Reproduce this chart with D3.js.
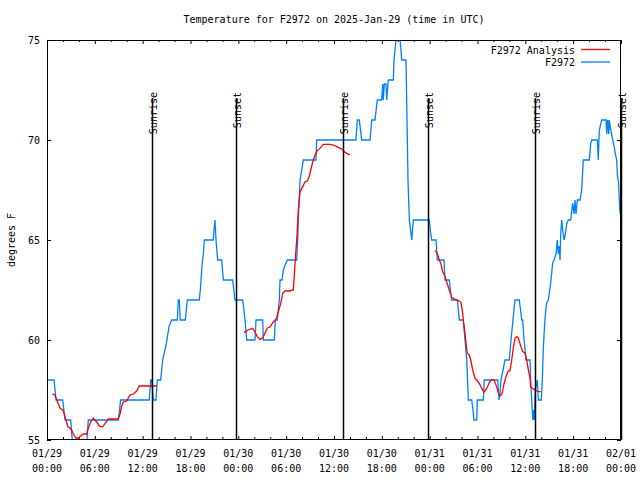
<!DOCTYPE html>
<html><head><meta charset="utf-8">
<script src="https://cdn.jsdelivr.net/npm/d3@7"></script>
<style>
body{margin:0;background:#fff}
text{font-family:"DejaVu Sans Mono",monospace;font-size:10px;fill:#000}
</style>
</head><body><svg id="c" width="640" height="480"></svg>
<script>
const title = "Temperature for F2972 on 2025-Jan-29 (time in UTC)";
const yLabel = "degrees F";
const seriesNames = ["F2972 Analysis", "F2972"];
const seriesColors = ["#ff0000", "#0080ff"];
const yTicks = [55, 60, 65, 70, 75];
// major x ticks every 6 hours (hours since 2025-01-29 00:00 UTC)
const xTickHours = [0, 6, 12, 18, 24, 30, 36, 42, 48, 54, 60, 66, 72];
const xTickDay = ["01/29","01/29","01/29","01/29","01/30","01/30","01/30","01/30","01/31","01/31","01/31","01/31","02/01"];
const xTickTime = ["00:00","06:00","12:00","18:00","00:00","06:00","12:00","18:00","00:00","06:00","12:00","18:00","00:00"];
const sunEvents = ["Sunrise","Sunset","Sunrise","Sunset","Sunrise","Sunset"];
const sunHours = [13.17, 23.7, 37.13, 47.8, 61.2, 72.0];

// observations (hours since 01/29 00:00 UTC, degrees F)
const obsHours = [0.13,0.88,1.13,1.97,2.26,2.97,3.17,3.32,4.83,5.18,
 8.94,9.24,12.83,13.01,13.13,13.33,13.67,13.84,14.26,14.51,
 14.8,15.05,15.3,15.64,16.35,16.47,16.6,16.72,17.35,17.6,
 19.1,19.23,19.32,19.44,19.61,19.73,20.86,20.95,21.07,21.2,
 21.41,21.91,22.12,23.29,23.58,24.55,24.84,25.05,26.09,26.22,
 27.06,27.13,28.51,28.64,28.89,29.01,29.14,29.23,29.48,29.64,
 30.14,31.32,31.45,31.52,31.74,31.95,32.15,33.74,33.83,38.76,
 38.92,39.17,39.48,40.52,40.73,41.14,41.43,41.98,42.11,42.18,
 42.31,42.52,42.61,42.81,43.44,43.53,43.65,43.78,43.87,44.28,
 44.41,44.49,45.03,45.16,45.28,45.45,45.6,45.75,45.85,45.95,
 47.96,48.08,48.26,48.8,48.96,49.8,49.92,50.46,50.76,51.47,
 51.72,52.22,52.43,52.65,52.85,53.27,53.44,53.56,53.9,53.98,
 54.73,54.85,56.54,56.7,56.82,56.95,57.2,57.45,57.99,58.2,
 58.45,58.7,59.24,59.4,59.55,59.67,59.84,60.09,60.59,60.67,
 60.8,60.93,61.0,61.13,61.25,61.5,61.63,62.0,62.13,62.25,
 62.38,62.51,62.68,62.88,63.01,63.18,63.31,63.43,63.6,63.85,
 64.01,64.14,64.26,64.35,64.44,64.56,64.69,64.85,64.98,65.19,
 65.39,65.69,65.94,66.11,66.23,66.36,66.52,66.86,67.07,67.2,
 67.27,68.03,68.2,68.33,69.03,69.15,69.28,69.58,70.12,70.21,
 70.33,70.46,70.53,70.71,70.96,71.13,71.29,71.46,71.54,71.71,
 71.79,71.88,71.94];
const obsTemp = [58,58,57,57,56,56,55,54,54,56,
 56,57,57,58,58,57,57,58,58,59,
 59.5,60,60.67,61,61,62,62,61,61,62,
 62,62.5,63,63.7,64.3,65,65,65.5,66,65,
 64,64,63,63,62,62,61,60,60,61,
 61,60,60,61,61,61.5,62,63,63,63.5,
 64,64,65,66,68,68.5,69,69,70,70,
 71,71,70,70,71,71,72,72,72.8,72,
 72.8,72.8,72,73,73,74,74.5,75,75,75,
 74.5,74,74,71,68,66,65.5,65,65.5,66,
 66,65.5,65,65,64,64,63,63,62,62,
 61,61,60,59,57,57,56.5,56,56,57,
 57,58,58,57,57.3,58,58.5,59,59,60,
 61,62,62,61.5,61,61,60,59,59,58,
 57,56,56.5,56,57.5,58,57,57,58,59.5,
 60.5,61.3,61.85,62,62.35,62.85,63.35,63.85,64,64.3,
 65,64.3,64.7,64,65.3,66,65.5,65,65.2,65.8,
 66,66,66.85,66.3,67,66.3,67,67,67.5,68.5,
 69,69,69.83,70,70,69,70.5,71,71,70.3,
 71,70.3,71,70.5,70,69.7,69.3,69,68.3,67.8,
 67,66.3,66.7];

// analysis (null = gap)
const anaHours = [0.66,1.0,1.13,1.42,1.63,1.97,2.13,2.38,2.6,2.88,
 3.1,3.3,3.64,3.93,4.23,4.55,4.98,5.18,5.48,5.81,
 6.23,6.65,6.99,7.49,7.69,8.94,9.16,9.37,9.57,10.0,
 10.2,10.41,10.83,11.25,11.58,13.76,null,
 24.71,25.21,25.8,26.09,26.38,26.72,27.06,27.35,27.63,27.97,
 28.39,28.73,29.01,29.32,29.57,29.85,30.39,30.9,31.11,31.23,
 31.4,31.52,31.74,32.07,32.36,32.65,32.9,33.08,33.33,33.62,
 33.91,34.24,34.66,35.5,35.91,36.34,36.97,37.38,37.79,38.01,null,
 48.67,48.96,49.21,49.42,49.64,49.92,50.14,50.46,50.76,51.18,
 51.59,51.93,52.14,52.22,52.43,52.56,52.72,52.97,53.15,53.4,
 53.69,53.9,54.23,54.53,54.82,55.16,55.48,55.78,56.07,56.41,
 56.61,56.82,57.07,57.32,57.58,57.86,58.08,58.29,58.49,58.7,
 58.92,59.12,59.42,59.67,59.96,60.17,60.38,60.59,60.67,60.84,
 61.21,61.63,61.93];
const anaTemp = [57.3,57.25,57.1,56.8,56.6,56.5,56.35,56.0,55.67,55.6,
 55.5,55.3,55.1,55.1,55.2,55.3,55.3,55.6,55.9,56.1,
 55.9,55.67,55.67,55.93,56.05,56.05,56.3,56.7,56.9,56.95,
 57.1,57.25,57.3,57.45,57.7,57.7,null,
 60.37,60.5,60.58,60.4,60.17,60.03,60.1,60.35,60.6,60.65,
 60.9,61.03,61.4,61.83,62.33,62.45,62.45,62.5,63.8,64.5,
 65.5,66.5,67.4,67.67,67.9,67.95,68.17,68.5,68.9,69.25,
 69.47,69.58,69.78,69.78,69.75,69.67,69.55,69.38,69.28,69.28,null,
 64.47,64.33,64.0,63.8,63.4,63.2,62.9,62.5,62.13,62.03,
 61.97,61.87,61.33,61.0,60.33,59.83,59.33,59.25,59.0,58.5,
 58.08,58.0,57.83,57.58,57.4,57.58,57.87,58.03,58.0,57.67,
 57.37,57.2,57.3,57.8,58.17,58.45,58.47,59.0,59.6,60.08,
 60.17,60.1,59.7,59.42,59.35,59.0,58.5,58.08,57.67,57.6,
 57.5,57.42,57.42];

const t0 = Date.UTC(2025, 0, 29);
const toDate = h => new Date(t0 + h * 3600000);

const L = 47, R = 621, T = 40, B = 440;
const svg = d3.select("#c");
const x = d3.scaleUtc().domain([toDate(0), toDate(72)]).range([L, R]);
const y = d3.scaleLinear().domain([55, 75]).range([B, T]);

svg.append("defs").append("clipPath").attr("id", "clip")
  .append("rect").attr("x", L).attr("y", T).attr("width", R - L).attr("height", B - T);

// title
svg.append("text").attr("x", (L + R) / 2).attr("y", 23).attr("text-anchor", "middle").text(title);

// minor x ticks (every 2h)
const minorHours = d3.range(0, 73, 2).filter(h => h % 6 !== 0);
const minorDates = minorHours.map(toDate);
const majorDates = xTickHours.map(toDate);

const gBot = svg.append("g").attr("transform", `translate(0,${B})`)
  .call(d3.axisBottom(x).tickValues(majorDates).tickSizeInner(-4).tickSizeOuter(0).tickPadding(0).tickFormat(""));
const gBotMinor = svg.append("g").attr("transform", `translate(0,${B})`)
  .call(d3.axisBottom(x).tickValues(minorDates).tickSizeInner(-3).tickSizeOuter(0).tickFormat(""));
const gTop = svg.append("g").attr("transform", `translate(0,${T})`)
  .call(d3.axisTop(x).tickValues(majorDates).tickSizeInner(-4).tickSizeOuter(0).tickFormat(""));
const gTopMinor = svg.append("g").attr("transform", `translate(0,${T})`)
  .call(d3.axisTop(x).tickValues(minorDates).tickSizeInner(-2).tickSizeOuter(0).tickFormat(""));
const gLeft = svg.append("g").attr("transform", `translate(${L},0)`)
  .call(d3.axisLeft(y).tickValues(yTicks).tickSizeInner(-4).tickSizeOuter(0).tickPadding(7).tickFormat(d3.format("d")));
const gRight = svg.append("g").attr("transform", `translate(${R},0)`)
  .call(d3.axisRight(y).tickValues(yTicks).tickSizeInner(-4).tickSizeOuter(0).tickFormat(""));
[gBot, gBotMinor, gTop, gTopMinor, gLeft, gRight].forEach(g => {
  g.select(".domain").remove();
  g.selectAll("line").attr("stroke", "#000");
  g.selectAll("text").style("font-family", "'DejaVu Sans Mono',monospace").style("font-size", "10px").attr("fill", "#000");
});

// two-line x tick labels
const xl = svg.append("g");
xTickHours.forEach((h, i) => {
  const t = xl.append("text").attr("text-anchor", "middle").attr("x", x(toDate(h)));
  t.append("tspan").attr("x", x(toDate(h))).attr("y", 457).text(xTickDay[i]);
  t.append("tspan").attr("x", x(toDate(h))).attr("y", 472).text(xTickTime[i]);
});

// y label
svg.append("text").attr("transform", `translate(15,${(T + B) / 2}) rotate(-90)`)
  .attr("text-anchor", "middle").text(yLabel);

// data lines
const obs = obsHours.map((h, i) => [toDate(h), obsTemp[i]]);
const ana = anaHours.map((h, i) => [h == null ? null : toDate(h), anaTemp[i]]);
const line = d3.line().defined(d => d[0] != null && d[1] != null).x(d => x(d[0])).y(d => y(d[1]));
const plot = svg.append("g").attr("clip-path", "url(#clip)");
plot.append("path").attr("d", line(obs)).attr("fill", "none").attr("stroke", seriesColors[1]).attr("stroke-width", 1.3);
plot.append("path").attr("d", line(ana)).attr("fill", "none").attr("stroke", seriesColors[0]).attr("stroke-width", 1.3);

// sunrise / sunset
sunHours.forEach((h, i) => {
  const sx = Math.round(x(toDate(h))) + 0.5;
  svg.append("line").attr("x1", sx).attr("x2", sx).attr("y1", 98).attr("y2", B)
    .attr("stroke", "#000").attr("stroke-width", 1.5);
  svg.append("text").attr("transform", `translate(${sx + 4},92) rotate(-90)`)
    .attr("text-anchor", "end").text(sunEvents[i]);
});

// frame
svg.append("rect").attr("x", L + 0.5).attr("y", T + 0.5).attr("width", R - L - 1).attr("height", B - T - 1)
  .attr("fill", "none").attr("stroke", "#000").attr("stroke-width", 1);

// legend
seriesNames.forEach((n, i) => {
  const ly = 50 + i * 12.5;
  svg.append("text").attr("x", 575).attr("y", ly + 3.5).attr("text-anchor", "end").text(n);
  svg.append("line").attr("x1", 581).attr("x2", 610).attr("y1", ly - 0.5).attr("y2", ly - 0.5)
    .attr("stroke", seriesColors[i]).attr("stroke-width", 1.3);
});
</script>
</body></html>
